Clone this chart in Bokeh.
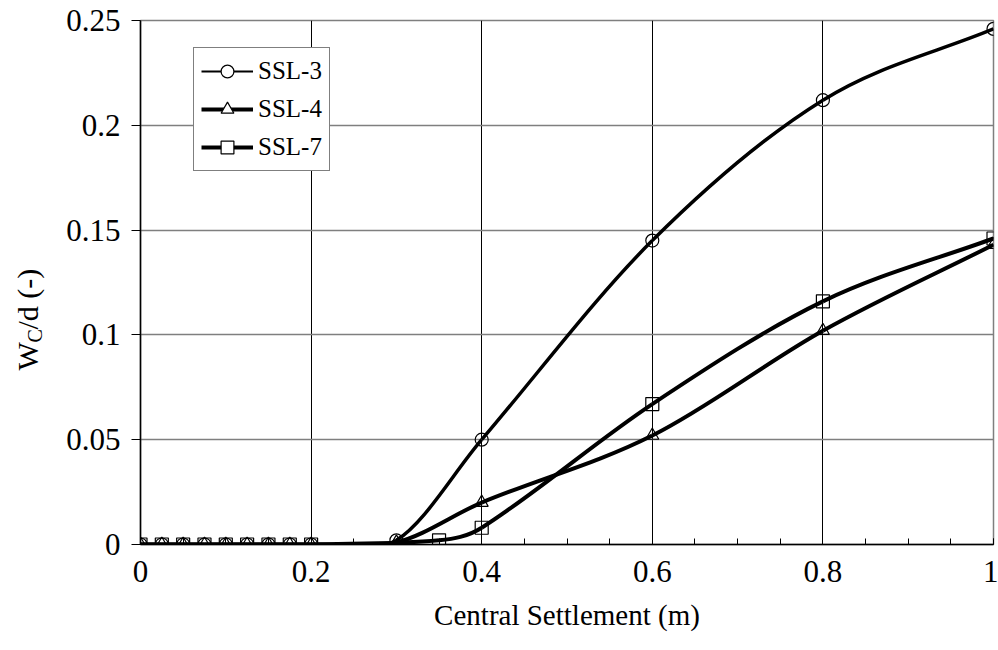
import numpy as np
from bokeh.plotting import figure
from bokeh.layouts import row
from bokeh.models import (FixedTicker, CustomJSTickFormatter, Legend, LegendItem,
                          ColumnDataSource, Range1d)
from bokeh.core.properties import value
from bokeh.embed import file_html
from bokeh.resources import INLINE

# ---- data ----
x_ssl3 = [0, 0.025, 0.05, 0.075, 0.1, 0.125, 0.15, 0.175, 0.2, 0.3, 0.4, 0.6, 0.8, 1.0]
y_ssl3 = [0, 0, 0, 0, 0, 0, 0, 0, 0, 0.002, 0.050, 0.145, 0.212, 0.246]

x_ssl4 = [0, 0.025, 0.05, 0.075, 0.1, 0.125, 0.15, 0.175, 0.2, 0.3, 0.4, 0.6, 0.8, 1.0]
y_ssl4 = [0, 0, 0, 0, 0, 0, 0, 0, 0, 0.001, 0.020, 0.052, 0.102, 0.143]

x_ssl7 = [0, 0.025, 0.05, 0.075, 0.1, 0.125, 0.15, 0.175, 0.2, 0.35, 0.4, 0.6, 0.8, 1.0]
y_ssl7 = [0, 0, 0, 0, 0, 0, 0, 0, 0, 0.002, 0.008, 0.067, 0.116, 0.146]

series_names = ["SSL-3", "SSL-4", "SSL-7"]
x_ticks = [0, 0.2, 0.4, 0.6, 0.8, 1.0]
y_ticks = [0, 0.05, 0.1, 0.15, 0.2, 0.25]
x_title = "Central Settlement (m)"
y_title_parts = ["W", "C", "/d (-)"]   # W subscript C, then "/d (-)"

FONT = "Liberation Serif"
LEFT_W = 60
H = 650
TOP, BOTTOM = 20, 106

p = figure(width=998 - LEFT_W, height=H, output_backend="svg", toolbar_location=None,
           x_range=Range1d(0, 1), y_range=Range1d(0, 0.25),
           min_border_left=140 - LEFT_W, min_border_right=5, min_border_top=TOP,
           min_border_bottom=BOTTOM)
p.background_fill_color = "white"
p.border_fill_color = "white"
p.outline_line_color = "#7f7f7f"
p.outline_line_width = 1.5


def smooth_bezier(xs, ys):
    """Hermite spline (x-parameterised) converted to cubic Bezier segments."""
    xs = np.asarray(xs, float)
    ys = np.asarray(ys, float)
    n = len(xs)
    m = np.zeros(n)
    for i in range(n):
        a = max(i - 1, 0)
        b = min(i + 1, n - 1)
        m[i] = (ys[b] - ys[a]) / (xs[b] - xs[a])
    d = dict(x0=[], y0=[], x1=[], y1=[], cx0=[], cy0=[], cx1=[], cy1=[])
    for i in range(n - 1):
        h = xs[i + 1] - xs[i]
        d["x0"].append(xs[i]); d["y0"].append(ys[i])
        d["x1"].append(xs[i + 1]); d["y1"].append(ys[i + 1])
        d["cx0"].append(xs[i] + h / 3); d["cy0"].append(ys[i] + m[i] * h / 3)
        d["cx1"].append(xs[i + 1] - h / 3); d["cy1"].append(ys[i + 1] - m[i + 1] * h / 3)
    return d


series = [
    (x_ssl3, y_ssl3, "circle", 3.5, 2.0),
    (x_ssl4, y_ssl4, "triangle", 4.0, 4.0),
    (x_ssl7, y_ssl7, "square", 4.0, 4.0),
]

items = []
for (xs, ys, mk, lw, leg_lw), name in zip(series, series_names):
    src = ColumnDataSource(smooth_bezier(xs, ys))
    p.bezier(x0="x0", y0="y0", x1="x1", y1="y1", cx0="cx0", cy0="cy0", cx1="cx1", cy1="cy1",
             source=src, line_color="black", line_width=lw)
    p.scatter(xs, ys, marker=mk, size=13, fill_color=None, line_color="black", line_width=1.2)
    # legend proxies
    lr = p.line([np.nan], [np.nan], line_color="black", line_width=leg_lw)
    sr = p.scatter([np.nan], [np.nan], marker=mk, size=13, fill_color="white",
                   line_color="black", line_width=1.2)
    items.append(LegendItem(label=name, renderers=[lr, sr]))

legend = Legend(items=items, location=(53, 373), orientation="vertical",
                label_text_font=FONT, label_text_font_size="25px",
                label_text_color="black",
                glyph_width=52, glyph_height=32, label_standoff=5, spacing=6,
                padding=7, margin=0, border_line_color="black", border_line_width=1,
                background_fill_color="white", background_fill_alpha=1.0)
p.add_layout(legend, "center")

fmt = CustomJSTickFormatter(code="return String(Number(tick.toFixed(3)));")

# x axis
p.xaxis.ticker = FixedTicker(ticks=x_ticks, minor_ticks=[i * 0.05 for i in range(21)])
p.xaxis.formatter = fmt
p.xaxis.axis_label = x_title
p.xaxis.axis_label_text_font = FONT
p.xaxis.axis_label_text_font_size = "29px"
p.xaxis.axis_label_text_font_style = "normal"
p.xaxis.axis_label_text_color = "black"
p.xaxis.axis_label_standoff = 14
p.xaxis.major_label_text_font = FONT
p.xaxis.major_label_text_font_size = "31px"
p.xaxis.major_label_text_color = "black"
p.xaxis.major_label_standoff = 16
p.xaxis.major_tick_in = 6
p.xaxis.major_tick_out = 0
p.xaxis.minor_tick_in = 6
p.xaxis.minor_tick_out = 0
p.xaxis.axis_line_color = "black"
p.xaxis.axis_line_width = 1.5
p.xaxis.major_tick_line_color = "black"
p.xaxis.minor_tick_line_color = "black"

# y axis
p.yaxis.ticker = FixedTicker(ticks=y_ticks, minor_ticks=[])
p.yaxis.formatter = fmt
p.yaxis.major_label_text_font = FONT
p.yaxis.major_label_text_font_size = "31px"
p.yaxis.major_label_text_color = "black"
p.yaxis.major_label_standoff = 11
p.yaxis.major_tick_in = 0
p.yaxis.major_tick_out = 9
p.yaxis.axis_line_color = "black"
p.yaxis.axis_line_width = 1.5
p.yaxis.major_tick_line_color = "black"

# grids
p.xgrid.ticker = FixedTicker(ticks=x_ticks)
p.xgrid.grid_line_color = "black"
p.xgrid.grid_line_width = 1
p.ygrid.ticker = FixedTicker(ticks=y_ticks)
p.ygrid.grid_line_color = "#7f7f7f"
p.ygrid.grid_line_width = 1.5

# ---- narrow strip on the left holding the rotated y-axis title (W_C/d (-)) ----
# its frame gets aligned with the main frame (rows TOP..H-BOTTOM), so use a range
# that makes one data unit equal one pixel, measured from the page bottom
t = figure(width=LEFT_W, height=H, output_backend="svg", toolbar_location=None,
           x_range=Range1d(0, LEFT_W), y_range=Range1d(BOTTOM, H - TOP),
           x_axis_type=None, y_axis_type=None,
           min_border_left=0, min_border_right=0,
           min_border_top=TOP, min_border_bottom=BOTTOM)
t.grid.visible = False
t.outline_line_color = None
t.background_fill_color = "white"
t.border_fill_color = "white"

ang = np.pi / 2
base_y = H - 370   # bottom end of the rotated title (370 px from page top)
t.text(x=[27], y=[base_y], text=[y_title_parts[0]], angle=ang,
       text_align="left", text_baseline="middle", text_font=value(FONT),
       text_font_size="30px", text_color="black")
t.text(x=[34], y=[base_y + 28], text=[y_title_parts[1]], angle=ang,
       text_align="left", text_baseline="middle", text_font=value(FONT),
       text_font_size="20px", text_color="black")
t.text(x=[27], y=[base_y + 41], text=[y_title_parts[2]], angle=ang,
       text_align="left", text_baseline="middle", text_font=value(FONT),
       text_font_size="30px", text_color="black")

layout = row(t, p, spacing=0)
open("out.html", "w").write(file_html(layout, INLINE))
